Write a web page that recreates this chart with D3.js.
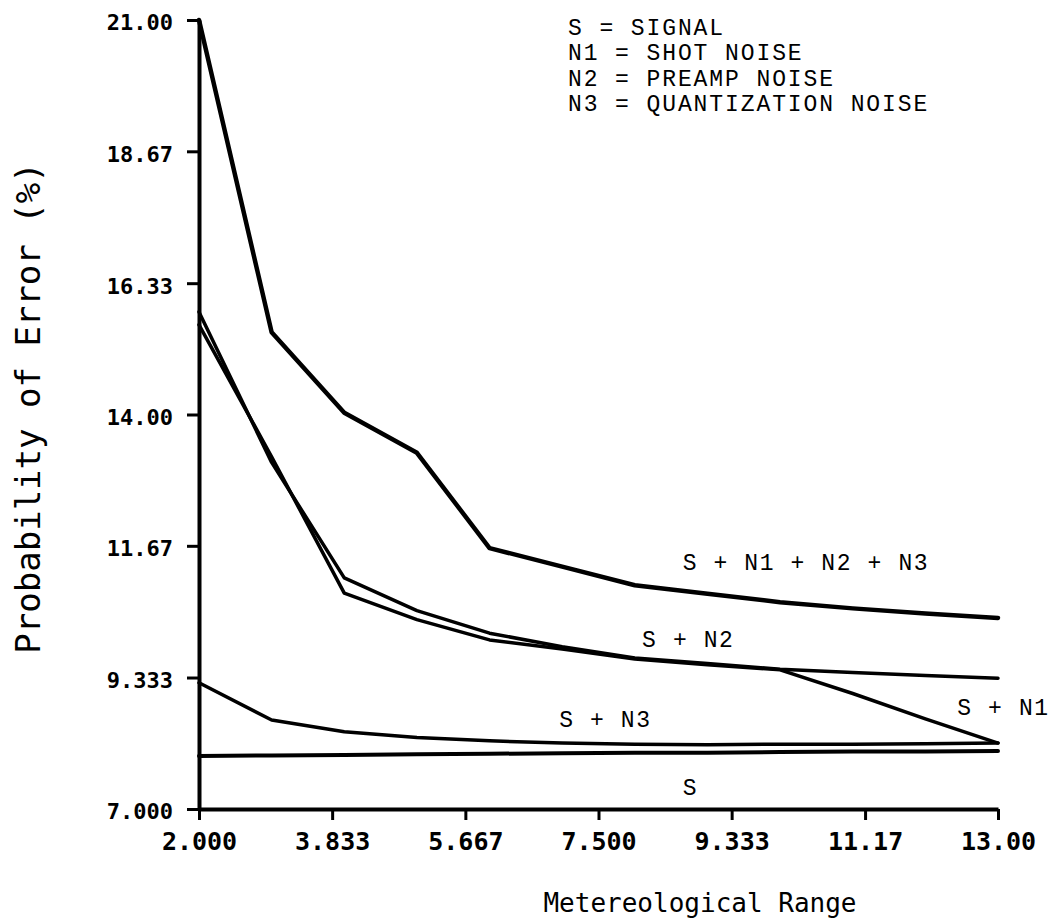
<!DOCTYPE html>
<html>
<head>
<meta charset="utf-8">
<script src="https://cdn.jsdelivr.net/npm/d3@7"></script>
<style>
  html, body { margin: 0; padding: 0; background: #fff; }
  svg { display: block; }
</style>
</head>
<body>
<svg id="chart" width="1054" height="920"></svg>
<script>
// Meteorological range (x) and probability of error (%) for each noise combination
const rangeValues = [2, 3, 4, 5, 6, 7, 8, 9, 10, 11, 12, 13];
const sAll   = [21.0, 15.46, 14.03, 13.32, 11.63, 11.3, 10.97, 10.82, 10.67, 10.56, 10.47, 10.39];
const sN2    = [15.82, 13.15, 11.10, 10.52, 10.12, 9.88, 9.68, 9.58, 9.48, 9.42, 9.37, 9.32];
const sN1    = [15.59, 13.25, 10.83, 10.36, 10.0, 9.84, 9.66, 9.56, 9.47, 9.05, 8.6, 8.17];
const sN3    = [9.24, 8.58, 8.37, 8.27, 8.21, 8.17, 8.15, 8.14, 8.15, 8.15, 8.16, 8.17];
const sOnly  = [7.94, 7.95, 7.96, 7.97, 7.98, 7.99, 8.0, 8.0, 8.01, 8.02, 8.02, 8.03];

const xTickValues = [2, 3.833, 5.667, 7.5, 9.333, 11.17, 13];
const xTickLabels = ["2.000", "3.833", "5.667", "7.500", "9.333", "11.17", "13.00"];
const yTickValues = [7, 9.333, 11.67, 14, 16.33, 18.67, 21];
const yTickLabels = ["7.000", "9.333", "11.67", "14.00", "16.33", "18.67", "21.00"];

const legendLines = ["S = SIGNAL", "N1 = SHOT NOISE", "N2 = PREAMP NOISE", "N3 = QUANTIZATION NOISE"];

const seriesList = [
  { name: "S + N1 + N2 + N3", values: sAll,  width: 4.5 },
  { name: "S + N2",           values: sN2,   width: 3.5 },
  { name: "S + N1",           values: sN1,   width: 3.5 },
  { name: "S + N3",           values: sN3,   width: 3.5 },
  { name: "S",                values: sOnly, width: 4 }
];

const svg = d3.select("#chart");
const x = d3.scaleLinear().domain([2, 13]).range([199, 998]);
const y = d3.scaleLinear().domain([7, 21]).range([809, 20]);

const tickFont = "'DejaVu Sans Mono', monospace";
const typeFont = "'Liberation Mono', 'Courier New', monospace";

// Curves
const line = d3.line()
  .x((d, i) => x(rangeValues[i]))
  .y(d => y(d));

svg.append("g").selectAll("path")
  .data(seriesList)
  .join("path")
  .attr("d", s => line(s.values))
  .attr("fill", "none")
  .attr("stroke", "#000")
  .attr("stroke-width", s => s.width)
  .attr("stroke-linejoin", "round")
  .attr("stroke-linecap", "round");

// X axis
const xAxis = svg.append("g")
  .attr("transform", `translate(0,${y(7)})`)
  .call(d3.axisBottom(x)
    .tickValues(xTickValues)
    .tickFormat((d, i) => xTickLabels[i])
    .tickSize(11)
    .tickSizeOuter(0)
    .tickPadding(12));
xAxis.select(".domain").attr("stroke", "#000").attr("stroke-width", 4);
xAxis.selectAll(".tick line").attr("stroke", "#000").attr("stroke-width", 3);
xAxis.selectAll(".tick text")
  .attr("fill", "#000")
  .style("font-family", tickFont)
  .style("font-weight", "bold")
  .style("font-size", "25px");

// Y axis
const yAxis = svg.append("g")
  .attr("transform", `translate(${x(2)},0)`)
  .call(d3.axisLeft(y)
    .tickValues(yTickValues)
    .tickFormat((d, i) => yTickLabels[i])
    .tickSize(12)
    .tickSizeOuter(0)
    .tickPadding(14));
yAxis.select(".domain").attr("stroke", "#000").attr("stroke-width", 4);
yAxis.selectAll(".tick line").attr("stroke", "#000").attr("stroke-width", 3);
yAxis.selectAll(".tick text")
  .attr("fill", "#000")
  .attr("dy", "0.45em")
  .style("font-family", tickFont)
  .style("font-weight", "bold")
  .style("font-size", "22px");

// Axis titles
svg.append("text")
  .attr("x", 700)
  .attr("y", 912)
  .attr("text-anchor", "middle")
  .style("font-family", tickFont)
  .style("font-size", "26px")
  .attr("fill", "#000")
  .text("Metereological Range");

svg.append("text")
  .attr("transform", "translate(40,408) rotate(-90)")
  .attr("text-anchor", "middle")
  .style("font-family", tickFont)
  .style("font-size", "34px")
  .attr("fill", "#000")
  .text("Probability of Error (%)");

// Legend block
svg.append("g").selectAll("text")
  .data(legendLines)
  .join("text")
  .attr("x", 568)
  .attr("y", (d, i) => 35 + i * 25.3)
  .style("font-family", typeFont)
  .style("font-size", "23px")
  .style("letter-spacing", "1.9px")
  .attr("fill", "#000")
  .text(d => d);

// Curve labels
const curveLabels = [
  { text: "S + N1 + N2 + N3", px: x(8.66), py: 570 },
  { text: "S + N2",           px: x(8.1),  py: 647 },
  { text: "S + N1",           px: x(12.44), py: 715 },
  { text: "S + N3",           px: x(6.96), py: 727 },
  { text: "S",                px: x(8.66), py: 795 }
];
svg.append("g").selectAll("text")
  .data(curveLabels)
  .join("text")
  .attr("x", d => d.px)
  .attr("y", d => d.py)
  .style("font-family", typeFont)
  .style("font-size", "23px")
  .style("letter-spacing", "1.6px")
  .attr("fill", "#000")
  .text(d => d.text);
</script>
</body>
</html>
